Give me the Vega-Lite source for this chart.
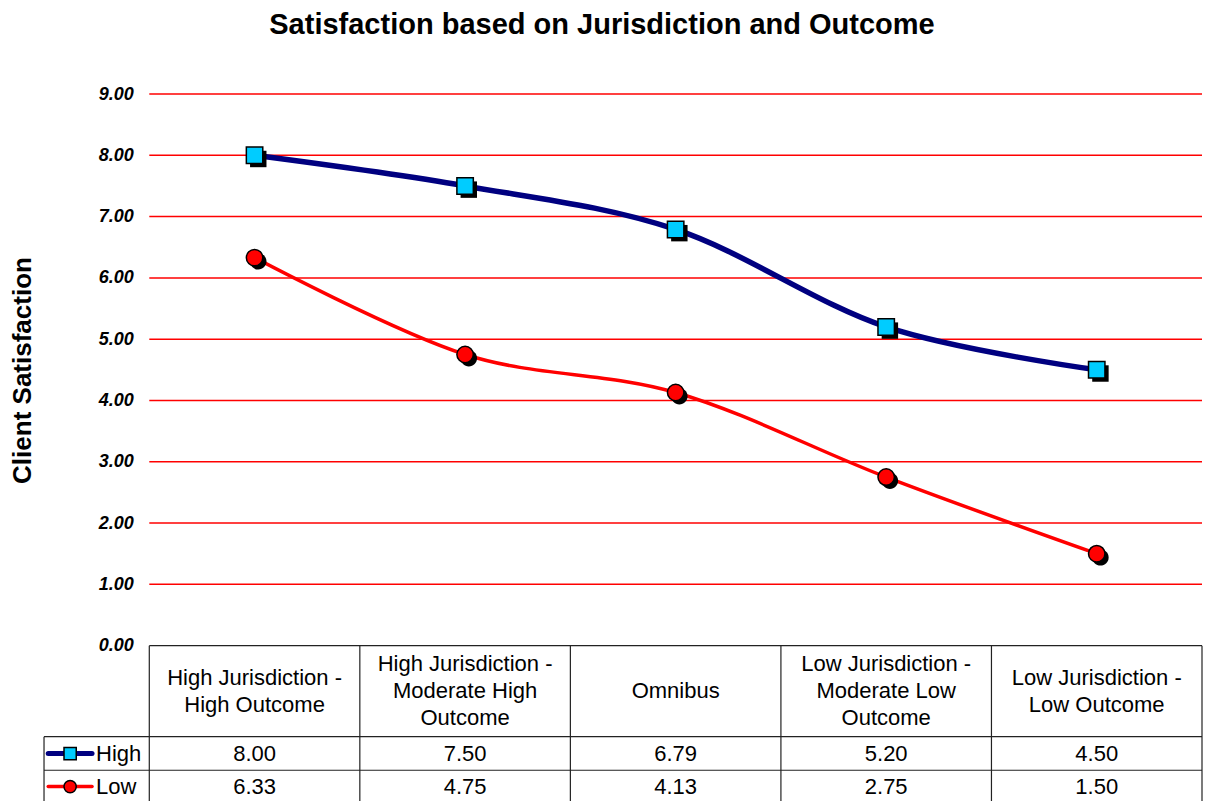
{
  "$schema": "https://vega.github.io/schema/vega-lite/v6.json",
  "autosize": "none",
  "width": 1158,
  "height": 711,
  "padding": {"left": 44, "top": 94, "right": 10, "bottom": 0},
  "background": "white",
  "config": {"view": {"stroke": null}, "text": {"font": "Liberation Sans"}},
  "title": {"text": "Satisfaction based on Jurisdiction and Outcome", "font": "Liberation Sans", "fontSize": 29, "fontWeight": "bold", "color": "black", "anchor": "middle", "dx": -21, "baseline": "alphabetic", "offset": 22},
  "resolve": {"axis": {"y": "independent"}},
  "datasets": {
    "scores": [
      {"category": "High Jurisdiction - High Outcome", "series": "High", "value": 8.00},
      {"category": "High Jurisdiction - Moderate High Outcome", "series": "High", "value": 7.50},
      {"category": "Omnibus", "series": "High", "value": 6.79},
      {"category": "Low Jurisdiction - Moderate Low Outcome", "series": "High", "value": 5.20},
      {"category": "Low Jurisdiction - Low Outcome", "series": "High", "value": 4.50},
      {"category": "High Jurisdiction - High Outcome", "series": "Low", "value": 6.33},
      {"category": "High Jurisdiction - Moderate High Outcome", "series": "Low", "value": 4.75},
      {"category": "Omnibus", "series": "Low", "value": 4.13},
      {"category": "Low Jurisdiction - Moderate Low Outcome", "series": "Low", "value": 2.75},
      {"category": "Low Jurisdiction - Low Outcome", "series": "Low", "value": 1.50}
    ],
    "headers": [
      {"category": "High Jurisdiction - High Outcome", "label": ["High Jurisdiction -", "High Outcome"]},
      {"category": "High Jurisdiction - Moderate High Outcome", "label": ["High Jurisdiction -", "Moderate High", "Outcome"]},
      {"category": "Omnibus", "label": ["Omnibus"]},
      {"category": "Low Jurisdiction - Moderate Low Outcome", "label": ["Low Jurisdiction -", "Moderate Low", "Outcome"]},
      {"category": "Low Jurisdiction - Low Outcome", "label": ["Low Jurisdiction -", "Low Outcome"]}
    ],
    "grid": [{"level": 1}, {"level": 2}, {"level": 3}, {"level": 4}, {"level": 5}, {"level": 6}, {"level": 7}, {"level": 8}, {"level": 9}],
    "one": [{}]
  },
  "layer": [
    {
      "data": {"name": "grid"},
      "mark": {"type": "rule", "color": "#FF0000", "strokeWidth": 1.5},
      "encoding": {
        "y": {"field": "level", "type": "quantitative",
          "scale": {"domain": [-2.6, 9], "nice": false, "zero": false},
          "axis": {"values": [0, 1, 2, 3, 4, 5, 6, 7, 8, 9], "format": ".2f", "offset": -105.3, "domain": false, "ticks": false, "grid": false,
            "labelPadding": 16, "labelFont": "Liberation Sans", "labelFontSize": 18, "labelFontWeight": "bold", "labelFontStyle": "italic", "labelColor": "black",
            "title": "Client Satisfaction", "titleFont": "Liberation Sans", "titleFontSize": 26, "titleFontWeight": "bold", "titleColor": "black",
            "titleX": -127, "titleY": 276, "titleAngle": -90, "titleAlign": "center", "titleBaseline": "middle"}},
        "x": {"datum": "High Jurisdiction - High Outcome", "type": "nominal", "bandPosition": 0,
          "scale": {"domain": ["Series", "High Jurisdiction - High Outcome", "High Jurisdiction - Moderate High Outcome", "Omnibus", "Low Jurisdiction - Moderate Low Outcome", "Low Jurisdiction - Low Outcome"], "range": [-105.25, 1158], "paddingInner": 0, "paddingOuter": 0},
          "axis": null},
        "x2": {"datum": "Low Jurisdiction - Low Outcome", "bandPosition": 1}
      }
    },
    {
      "data": {"name": "headers"},
      "mark": {"type": "rule", "color": "#222222", "strokeWidth": 1.2},
      "encoding": {
        "x": {"field": "category", "type": "nominal", "bandPosition": 0, "axis": null},
        "y": {"datum": 0, "type": "quantitative", "axis": null},
        "y2": {"datum": -2.6}
      }
    },
    {
      "data": {"name": "one"},
      "mark": {"type": "rule", "color": "#222222", "strokeWidth": 1.2},
      "encoding": {
        "x": {"datum": "Low Jurisdiction - Low Outcome", "type": "nominal", "bandPosition": 1, "axis": null},
        "y": {"datum": 0, "type": "quantitative", "axis": null},
        "y2": {"datum": -2.6}
      }
    },
    {
      "data": {"name": "one"},
      "mark": {"type": "rule", "color": "#222222", "strokeWidth": 1.2},
      "encoding": {
        "x": {"datum": "Series", "type": "nominal", "bandPosition": 0.5, "axis": null},
        "y": {"datum": -1.486, "type": "quantitative", "axis": null},
        "y2": {"datum": -2.6}
      }
    },
    {
      "data": {"name": "one"},
      "mark": {"type": "rule", "color": "#222222", "strokeWidth": 1.2},
      "encoding": {
        "x": {"datum": "High Jurisdiction - High Outcome", "type": "nominal", "bandPosition": 0, "axis": null},
        "x2": {"datum": "Low Jurisdiction - Low Outcome", "bandPosition": 1},
        "y": {"datum": 0, "type": "quantitative", "axis": null}
      }
    },
    {
      "data": {"name": "one"},
      "mark": {"type": "rule", "color": "#222222", "strokeWidth": 1.2},
      "encoding": {
        "x": {"datum": "Series", "type": "nominal", "bandPosition": 0.5, "axis": null},
        "x2": {"datum": "Low Jurisdiction - Low Outcome", "bandPosition": 1},
        "y": {"datum": -1.486, "type": "quantitative", "axis": null}
      }
    },
    {
      "data": {"name": "one"},
      "mark": {"type": "rule", "color": "#222222", "strokeWidth": 1.2},
      "encoding": {
        "x": {"datum": "Series", "type": "nominal", "bandPosition": 0.5, "axis": null},
        "x2": {"datum": "Low Jurisdiction - Low Outcome", "bandPosition": 1},
        "y": {"datum": -2.033, "type": "quantitative", "axis": null}
      }
    },
    {
      "data": {"name": "scores"},
      "transform": [{"filter": "datum.series === 'Low'"}],
      "mark": {"type": "line", "interpolate": "cardinal", "color": "#FF0000", "strokeWidth": 3.5},
      "encoding": {
        "x": {"field": "category", "type": "nominal", "axis": null, "sort": null},
        "y": {"field": "value", "type": "quantitative", "axis": null}
      }
    },
    {
      "data": {"name": "scores"},
      "transform": [{"filter": "datum.series === 'High'"}],
      "mark": {"type": "line", "interpolate": "cardinal", "color": "#000080", "strokeWidth": 5.5},
      "encoding": {
        "x": {"field": "category", "type": "nominal", "axis": null, "sort": null},
        "y": {"field": "value", "type": "quantitative", "axis": null}
      }
    },
    {
      "data": {"name": "scores"},
      "transform": [{"filter": "datum.series === 'High'"}],
      "mark": {"type": "point", "shape": "M-0.55,-0.55H1.45V1.45H-0.55Z", "filled": true, "fill": "black", "strokeWidth": 0, "opacity": 1, "size": 270},
      "encoding": {
        "x": {"field": "category", "type": "nominal", "axis": null},
        "y": {"field": "value", "type": "quantitative", "axis": null}
      }
    },
    {
      "data": {"name": "scores"},
      "transform": [{"filter": "datum.series === 'Low'"}],
      "mark": {"type": "point", "shape": "M1.45,0.45A1,1,0,1,1,-0.55,0.45A1,1,0,1,1,1.45,0.45Z", "filled": true, "fill": "black", "strokeWidth": 0, "opacity": 1, "size": 270},
      "encoding": {
        "x": {"field": "category", "type": "nominal", "axis": null},
        "y": {"field": "value", "type": "quantitative", "axis": null}
      }
    },
    {
      "data": {"name": "scores"},
      "transform": [{"filter": "datum.series === 'High'"}],
      "mark": {"type": "point", "shape": "square", "filled": true, "fill": "#00CCFF", "stroke": "black", "strokeWidth": 1.5, "opacity": 1, "size": 270},
      "encoding": {
        "x": {"field": "category", "type": "nominal", "axis": null},
        "y": {"field": "value", "type": "quantitative", "axis": null}
      }
    },
    {
      "data": {"name": "scores"},
      "transform": [{"filter": "datum.series === 'Low'"}],
      "mark": {"type": "point", "shape": "circle", "filled": true, "fill": "#FF0000", "stroke": "black", "strokeWidth": 1.5, "opacity": 1, "size": 270},
      "encoding": {
        "x": {"field": "category", "type": "nominal", "axis": null},
        "y": {"field": "value", "type": "quantitative", "axis": null}
      }
    },
    {
      "data": {"name": "headers"},
      "transform": [{"filter": "datum.label.length === 1"}],
      "mark": {"type": "text", "font": "Liberation Sans", "fontSize": 22, "lineHeight": 27, "align": "center", "baseline": "middle", "color": "black"},
      "encoding": {
        "x": {"field": "category", "type": "nominal", "axis": null},
        "y": {"datum": -0.741, "type": "quantitative", "axis": null},
        "text": {"field": "label"}
      }
    },
    {
      "data": {"name": "headers"},
      "transform": [{"filter": "datum.label.length === 2"}],
      "mark": {"type": "text", "font": "Liberation Sans", "fontSize": 22, "lineHeight": 27, "align": "center", "baseline": "middle", "color": "black"},
      "encoding": {
        "x": {"field": "category", "type": "nominal", "axis": null},
        "y": {"datum": -0.52, "type": "quantitative", "axis": null},
        "text": {"field": "label"}
      }
    },
    {
      "data": {"name": "headers"},
      "transform": [{"filter": "datum.label.length === 3"}],
      "mark": {"type": "text", "font": "Liberation Sans", "fontSize": 22, "lineHeight": 27, "align": "center", "baseline": "middle", "color": "black"},
      "encoding": {
        "x": {"field": "category", "type": "nominal", "axis": null},
        "y": {"datum": -0.30, "type": "quantitative", "axis": null},
        "text": {"field": "label"}
      }
    },
    {
      "data": {"name": "scores"},
      "transform": [{"filter": "datum.series === 'High'"}],
      "mark": {"type": "text", "font": "Liberation Sans", "fontSize": 22, "align": "center", "baseline": "middle", "color": "black"},
      "encoding": {
        "x": {"field": "category", "type": "nominal", "axis": null},
        "y": {"datum": -1.76, "type": "quantitative", "axis": null},
        "text": {"field": "value", "type": "quantitative", "format": ".2f"}
      }
    },
    {
      "data": {"name": "scores"},
      "transform": [{"filter": "datum.series === 'Low'"}],
      "mark": {"type": "text", "font": "Liberation Sans", "fontSize": 22, "align": "center", "baseline": "middle", "color": "black"},
      "encoding": {
        "x": {"field": "category", "type": "nominal", "axis": null},
        "y": {"datum": -2.30, "type": "quantitative", "axis": null},
        "text": {"field": "value", "type": "quantitative", "format": ".2f"}
      }
    },
    {
      "data": {"values": [{"series": "High"}]},
      "mark": {"type": "rule", "color": "#000080", "strokeWidth": 5, "strokeCap": "round"},
      "encoding": {
        "x": {"datum": "Series", "type": "nominal", "bandPosition": 0.52, "axis": null},
        "x2": {"datum": "Series", "bandPosition": 0.728},
        "y": {"datum": -1.76, "type": "quantitative", "axis": null}
      }
    },
    {
      "data": {"values": [{"series": "Low"}]},
      "mark": {"type": "rule", "color": "#FF0000", "strokeWidth": 3.5, "strokeCap": "round"},
      "encoding": {
        "x": {"datum": "Series", "type": "nominal", "bandPosition": 0.52, "axis": null},
        "x2": {"datum": "Series", "bandPosition": 0.728},
        "y": {"datum": -2.30, "type": "quantitative", "axis": null}
      }
    },
    {
      "data": {"values": [{"series": "High"}]},
      "mark": {"type": "point", "shape": "square", "filled": true, "fill": "#00CCFF", "stroke": "black", "strokeWidth": 1.5, "opacity": 1, "size": 150},
      "encoding": {
        "x": {"datum": "Series", "type": "nominal", "bandPosition": 0.624, "axis": null},
        "y": {"datum": -1.76, "type": "quantitative", "axis": null}
      }
    },
    {
      "data": {"values": [{"series": "Low"}]},
      "mark": {"type": "point", "shape": "circle", "filled": true, "fill": "#FF0000", "stroke": "black", "strokeWidth": 1.5, "opacity": 1, "size": 150},
      "encoding": {
        "x": {"datum": "Series", "type": "nominal", "bandPosition": 0.624, "axis": null},
        "y": {"datum": -2.30, "type": "quantitative", "axis": null}
      }
    },
    {
      "data": {"values": [{"series": "High"}]},
      "mark": {"type": "text", "font": "Liberation Sans", "fontSize": 22, "align": "left", "baseline": "middle", "color": "black"},
      "encoding": {
        "x": {"datum": "Series", "type": "nominal", "bandPosition": 0.747, "axis": null},
        "y": {"datum": -1.76, "type": "quantitative", "axis": null},
        "text": {"field": "series"}
      }
    },
    {
      "data": {"values": [{"series": "Low"}]},
      "mark": {"type": "text", "font": "Liberation Sans", "fontSize": 22, "align": "left", "baseline": "middle", "color": "black"},
      "encoding": {
        "x": {"datum": "Series", "type": "nominal", "bandPosition": 0.747, "axis": null},
        "y": {"datum": -2.30, "type": "quantitative", "axis": null},
        "text": {"field": "series"}
      }
    }
  ]
}
